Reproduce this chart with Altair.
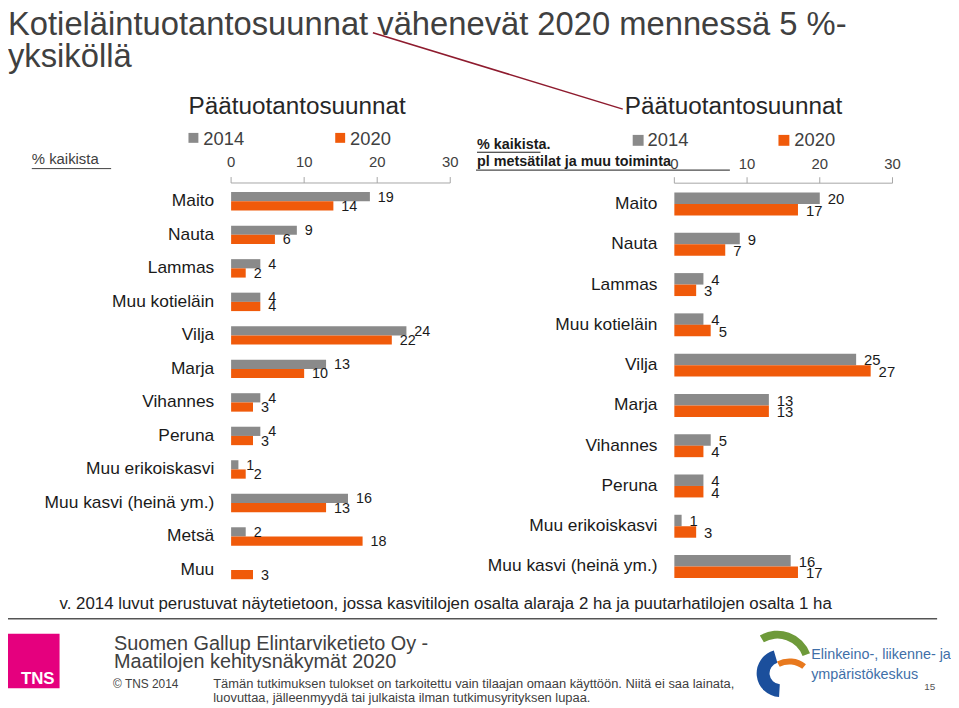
import altair as alt
import pandas as pd

# ---------------- data ----------------
years = ["2014", "2020"]
axis_ticks = [0, 10, 20, 30]

cats_left = ["Maito", "Nauta", "Lammas", "Muu kotieläin", "Vilja", "Marja",
             "Vihannes", "Peruna", "Muu erikoiskasvi", "Muu kasvi (heinä ym.)",
             "Metsä", "Muu"]
left_2014 = [19, 9, 4, 4, 24, 13, 4, 4, 1, 16, 2, None]
left_2020 = [14, 6, 2, 4, 22, 10, 3, 3, 2, 13, 18, 3]

cats_right = ["Maito", "Nauta", "Lammas", "Muu kotieläin", "Vilja", "Marja",
              "Vihannes", "Peruna", "Muu erikoiskasvi", "Muu kasvi (heinä ym.)"]
right_2014 = [20, 9, 4, 4, 25, 13, 5, 4, 1, 16]
right_2020 = [17, 7, 3, 5, 27, 13, 4, 4, 3, 17]

# ---------------- style ----------------
GRAY = "#8A8A8A"
ORANGE = "#F05A0A"
AXC = "#A6A6A6"
TXT = "#404040"
DARK = "#1A1A1A"
FONT = "Liberation Sans"
M = 8


def px(v):
    return v - M


def long_df(cats, a, b):
    rows = []
    for c, v in zip(cats, a):
        if v is not None:
            rows.append({"cat": c, "year": "2014", "value": v})
    for c, v in zip(cats, b):
        if v is not None:
            rows.append({"cat": c, "year": "2020", "value": v})
    return pd.DataFrame(rows)


def panel(cats, df, x0, x1, y0, y1, pad, label_right, val_size, tick_y, axis_y):
    xs = alt.Scale(domain=[0, 30], range=[px(x0), px(x1)], nice=False, zero=True)
    ys = alt.Scale(domain=cats, range=[px(y0), px(y1)],
                   paddingInner=pad, paddingOuter=pad / 2)
    yo = alt.Scale(domain=years)
    col = alt.Scale(domain=years, range=[GRAY, ORANGE])
    base = alt.Chart(df)
    bars = base.mark_bar().encode(
        x=alt.X("value:Q", scale=xs, axis=None),
        y=alt.Y("cat:N", scale=ys, axis=None),
        yOffset=alt.YOffset("year:N", scale=yo),
        color=alt.Color("year:N", scale=col, legend=None),
    )
    labels = base.mark_text(align="left", baseline="middle", dx=8, dy=1,
                            fontSize=val_size, font=FONT, color=DARK).encode(
        x=alt.X("value:Q", scale=xs, axis=None),
        y=alt.Y("cat:N", scale=ys, axis=None),
        yOffset=alt.YOffset("year:N", scale=yo),
        text=alt.Text("value:Q"),
    )
    catlab = alt.Chart(pd.DataFrame({"cat": cats})).mark_text(
        align="right", baseline="middle", fontSize=17.5, font=FONT, color=DARK
    ).encode(
        x=alt.value(px(label_right)),
        y=alt.Y("cat:N", scale=ys, axis=None),
        text="cat:N",
    )
    tdf = pd.DataFrame({"t": axis_ticks})
    ticklab = alt.Chart(tdf).mark_text(
        align="center", baseline="middle", fontSize=15, font=FONT, color=TXT
    ).encode(
        x=alt.X("t:Q", scale=xs, axis=None),
        y=alt.value(px(tick_y)),
        text="t:Q",
    )
    tickmarks = alt.Chart(tdf).mark_rule(color=AXC, strokeWidth=1).encode(
        x=alt.X("t:Q", scale=xs, axis=None),
        y=alt.value(px(axis_y - 6)),
        y2=alt.value(px(axis_y)),
    )
    baseline = alt.Chart(pd.DataFrame({"a": [0], "b": [30]})).mark_rule(
        color=AXC, strokeWidth=1
    ).encode(
        x=alt.X("a:Q", scale=xs, axis=None),
        x2="b:Q",
        y=alt.value(px(axis_y)),
    )
    return alt.layer(bars, labels, catlab, ticklab, tickmarks, baseline)


one = pd.DataFrame({"k": [0]})


def txt(s, x, y, size, color=TXT, align="left", baseline="alphabetic",
        weight="normal", font=FONT):
    return alt.Chart(one).mark_text(
        text=s, align=align, baseline=baseline, fontSize=size,
        fontWeight=weight, color=color, font=font
    ).encode(x=alt.value(px(x)), y=alt.value(px(y)))


def seg(x1, y1, x2, y2, color, w):
    return alt.Chart(one).mark_rule(color=color, strokeWidth=w).encode(
        x=alt.value(px(x1)), y=alt.value(px(y1)),
        x2=alt.value(px(x2)), y2=alt.value(px(y2)))


def box(x1, y1, x2, y2, color):
    return alt.Chart(one).mark_rect(color=color).encode(
        x=alt.value(px(x1)), y=alt.value(px(y1)),
        x2=alt.value(px(x2)), y2=alt.value(px(y2)))


def arc(cx, cy, r0, r1, t0, t1, color):
    return alt.Chart(one).mark_arc(
        innerRadius=r0, outerRadius=r1, theta=t0, theta2=t1, color=color
    ).encode(x=alt.value(px(cx)), y=alt.value(px(cy)))


left = panel(cats_left, long_df(cats_left, left_2014, left_2020),
             233, 454, 183.1, 588.7, 0.45, 216, 14.5, 160, 181.5)
right = panel(cats_right, long_df(cats_right, right_2014, right_2020),
              680, 900, 182.4, 588.6, 0.43, 663, 15, 162, 181.7)

annotations = [
    # title
    txt("Kotieläintuotantosuunnat vähenevät 2020 mennessä 5 %-", 8, 32, 33),
    txt("yksiköllä", 8, 65, 33),
    seg(376, 30, 628, 107, "#8E1B2E", 1.5),
    # headings
    txt("Päätuotantosuunnat", 190, 112, 24.5, color="#262626"),
    txt("Päätuotantosuunnat", 630, 112, 24.5, color="#262626"),
    # legends
    box(190, 131, 200, 141, GRAY),
    txt("2014", 205, 137, 18.5, baseline="middle"),
    box(338, 131, 348, 141, ORANGE),
    txt("2020", 353, 137, 18.5, baseline="middle"),
    box(638, 133, 649, 144, GRAY),
    txt("2014", 653, 138.5, 18.5, baseline="middle"),
    box(785, 133, 796, 144, ORANGE),
    txt("2020", 801, 138.5, 18.5, baseline="middle"),
    # unit notes
    txt("% kaikista", 32, 157, 15, baseline="middle"),
    seg(32, 167, 112, 167, TXT, 1),
    txt("% kaikista.", 481, 143, 14.5, color=DARK, baseline="middle", weight="bold"),
    seg(481, 150.5, 545, 150.5, DARK, 1),
    txt("pl metsätilat ja muu toiminta", 481, 160, 14.5, color=DARK,
        baseline="middle", weight="bold"),
    seg(480, 168.5, 736, 168.5, DARK, 1),
    # footnote
    txt("v. 2014 luvut perustuvat näytetietoon, jossa kasvitilojen osalta alaraja  2 ha  ja puutarhatilojen osalta 1 ha",
        60, 606, 17, color="#222222", baseline="middle"),
    seg(0, 621, 945, 621, "#555555", 1.5),
    # footer TNS
    box(4, 636, 60, 691, "#E5007E"),
    txt("TNS", 21, 687, 17, color="white", weight="bold"),
    txt("Suomen Gallup Elintarviketieto Oy -", 115, 652, 20),
    txt("Maatilojen kehitysnäkymät 2020", 115, 671, 20),
    txt("© TNS 2014", 114, 691, 12),
    txt("Tämän tutkimuksen tulokset on tarkoitettu vain tilaajan omaan käyttöön. Niitä ei saa  lainata,",
        215, 691, 13),
    txt("luovuttaa, jälleenmyydä tai julkaista ilman tutkimusyrityksen lupaa.",
        215, 705, 13),
    # ELY logo (approximation)
    arc(784, 668, 27, 35, 5.75, 7.5, "#6E9A3A"),
    arc(787, 676, 11, 24, 3.2, 6.0, "#1B4F9C"),
    arc(796, 688, 21, 27, 5.8, 6.95, "#E8791E"),
    txt("Elinkeino-, liikenne- ja", 818, 662, 14.5, color="#3F6FA8"),
    txt("ympäristökeskus", 818, 682, 14.5, color="#3F6FA8"),
    txt("15", 932, 693, 10, color="#555555"),
]

chart = alt.layer(left, right, *annotations).resolve_scale(
    x="independent", y="independent", yOffset="independent"
).properties(
    width=951, height=700, padding=0,
    autosize=alt.AutoSizeParams(type="none"),
    background="white",
).configure_view(stroke=None)

chart.save("out.html", embed_options={"renderer": "svg", "actions": False})
